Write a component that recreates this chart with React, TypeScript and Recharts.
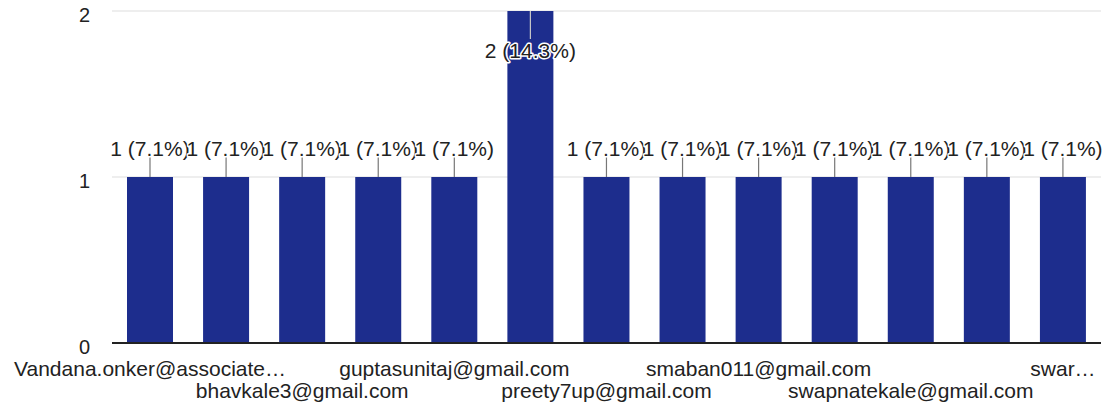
import React from "react";
import { BarChart, Bar, XAxis, YAxis, CartesianGrid, LabelList } from "recharts";

const categories: string[] = [
  "Vandana.onker@associate…",
  "",
  "bhavkale3@gmail.com",
  "",
  "guptasunitaj@gmail.com",
  "",
  "preety7up@gmail.com",
  "",
  "smaban011@gmail.com",
  "",
  "swapnatekale@gmail.com",
  "",
  "swar…",
];
const counts: number[] = [1, 1, 1, 1, 1, 2, 1, 1, 1, 1, 1, 1, 1];
const yTicks: number[] = [0, 1, 2];

const total = counts.reduce((a, b) => a + b, 0);
const data = categories.map((name, i) => ({ id: i, name, value: counts[i] }));

const FONT = "'Liberation Sans', Arial, sans-serif";
const BAR_COLOR = "#1d2d8d";

const XTick = (props: any) => {
  const { x, y, index, payload } = props;
  const label = payload && payload.value !== undefined ? categories[payload.value] : "";
  if (!label) return null;
  const row = index % 4 === 0 ? 0 : 1;
  return (
    <text
      x={x}
      y={y + (row === 0 ? 33 : 55)}
      textAnchor="middle"
      fontSize={21}
      fontFamily={FONT}
      fill="#222"
    >
      {label}
    </text>
  );
};

const YTick = (props: any) => {
  const { x, y, payload } = props;
  return (
    <text x={x} y={y + 4} dy="0.36em" textAnchor="end" fontSize={20} fontFamily={FONT} fill="#222">
      {payload.value}
    </text>
  );
};

const BarLabel = (props: any) => {
  const { x, y, width, value } = props;
  const cx = x + width / 2;
  const text = `${value} (${((value / total) * 100).toFixed(1)}%)`;
  const inside = value >= 2;
  const textY = inside ? y + 39 : y - 29;
  const lineY1 = inside ? y : y - 20;
  const lineY2 = inside ? y + 28 : y;
  return (
    <g>
      <line x1={cx} x2={cx} y1={lineY1} y2={lineY2} stroke={inside ? "#c8c8c8" : "#777"} strokeWidth={1.2} />
      <text
        x={cx}
        y={textY}
        dy="0.36em"
        textAnchor="middle"
        fontSize={21}
        fontFamily={FONT}
        fill="#222"
        stroke="#ffffff"
        strokeWidth={3}
        strokeLinejoin="round"
        style={{ paintOrder: "stroke" }}
      >
        {text}
      </text>
    </g>
  );
};

export default function App() {
  return (
    <div style={{ position: "absolute", left: 0, top: 0, width: 1108, height: 409, background: "#fff", fontFamily: FONT }}>
      <BarChart
        width={1108}
        height={409}
        data={data}
        margin={{ top: 11, right: 7, bottom: 0, left: 0 }}
      >
        <CartesianGrid vertical={false} stroke="#dedede" strokeWidth={1.2} />
        <XAxis
          dataKey="id"
          type="category"
          interval={0}
          height={66}
          tickLine={false}
          tickSize={0}
          tickMargin={0}
          axisLine={{ stroke: "#222", strokeWidth: 2 }}
          tick={<XTick />}
        />
        <YAxis
          domain={[0, 2]}
          ticks={yTicks}
          width={112}
          axisLine={false}
          tickLine={false}
          tickSize={0}
          tickMargin={22}
          tick={<YTick />}
        />
        <Bar dataKey="value" fill={BAR_COLOR} barSize={46} isAnimationActive={false}>
          <LabelList dataKey="value" content={<BarLabel />} />
        </Bar>
      </BarChart>
    </div>
  );
}
